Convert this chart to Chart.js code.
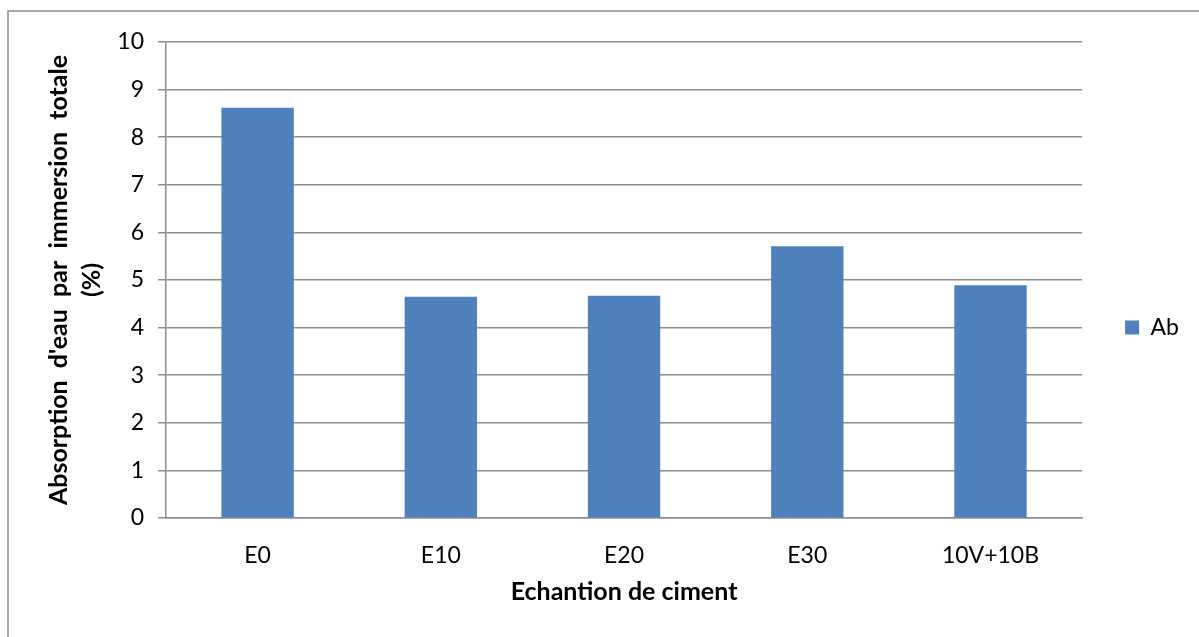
<!DOCTYPE html>
<html>
<head>
<meta charset="utf-8">
<script src="https://cdn.jsdelivr.net/npm/chart.js@4.4.1/dist/chart.umd.min.js"></script>
<style>
  html, body { margin: 0; padding: 0; background: #fff; }
  #wrap { position: relative; width: 1199px; height: 637px; }
</style>
</head>
<body>
<div id="wrap"><canvas id="chart" width="1199" height="637"></canvas></div>
<script>
// Water absorption by total immersion, per cement sample
const categories = ['E0', 'E10', 'E20', 'E30', '10V+10B'];
const absorption = [8.62, 4.65, 4.67, 5.71, 4.89];
const seriesName = 'Ab';
const yTitle = ["Absorption  d'eau  par  immersion  totale", '(%)'];
const xTitle = 'Echantion de ciment';

const FONT = 'Lato, "Liberation Sans", sans-serif';
const GRID = '#8c8c8c';

// Thin grey frame around the whole figure (left and top edges visible)
const framePlugin = {
  id: 'frame',
  beforeDraw(chart) {
    const c = chart.ctx;
    c.save();
    c.fillStyle = '#fff';
    c.fillRect(0, 0, chart.width, chart.height);
    c.strokeStyle = '#8c8c8c';
    c.lineWidth = 1.5;
    c.beginPath();
    c.moveTo(8, chart.height);
    c.lineTo(8, 11);
    c.lineTo(chart.width, 11);
    c.stroke();
    c.restore();
  }
};

new Chart(document.getElementById('chart'), {
  type: 'bar',
  data: {
    labels: categories,
    datasets: [{
      label: seriesName,
      data: absorption,
      backgroundColor: '#4f81bd',
      borderWidth: 0,
      categoryPercentage: 1,
      barPercentage: 0.395
    }]
  },
  options: {
    responsive: false,
    animation: false,
    devicePixelRatio: 1,
    layout: { padding: { top: 42, right: 10, bottom: 24, left: 0 } },
    plugins: {
      tooltip: { enabled: false },
      legend: {
        position: 'right',
        align: 'center',
        labels: {
          boxWidth: 14,
          boxHeight: 14,
          padding: 43,
          color: '#000',
          font: { family: FONT, size: 23 }
        }
      }
    },
    scales: {
      x: {
        grid: { display: false, drawTicks: false },
        border: { display: true, color: GRID, width: 1.5 },
        ticks: { color: '#000', padding: 24, font: { family: FONT, size: 23 } },
        title: {
          display: true,
          text: xTitle,
          color: '#000',
          font: { family: FONT, size: 25, weight: 'bold' },
          padding: { top: 0, bottom: 6 }
        },
        afterFit(scale) { scale.height = 95; }
      },
      y: {
        min: 0,
        max: 10,
        ticks: { stepSize: 1, color: '#000', padding: 14, font: { family: FONT, size: 23 } },
        grid: { color: GRID, lineWidth: 1.5, tickLength: 8, drawTicks: true },
        border: { display: true, color: GRID, width: 1.5 },
        title: {
          display: true,
          text: yTitle,
          color: '#000',
          font: { family: FONT, size: 25, weight: 'bold', lineHeight: 1.32 },
          padding: { top: 42, bottom: 0 }
        },
        afterFit(scale) { scale.width = 166; }
      }
    }
  },
  plugins: [framePlugin]
});
</script>
</body>
</html>
